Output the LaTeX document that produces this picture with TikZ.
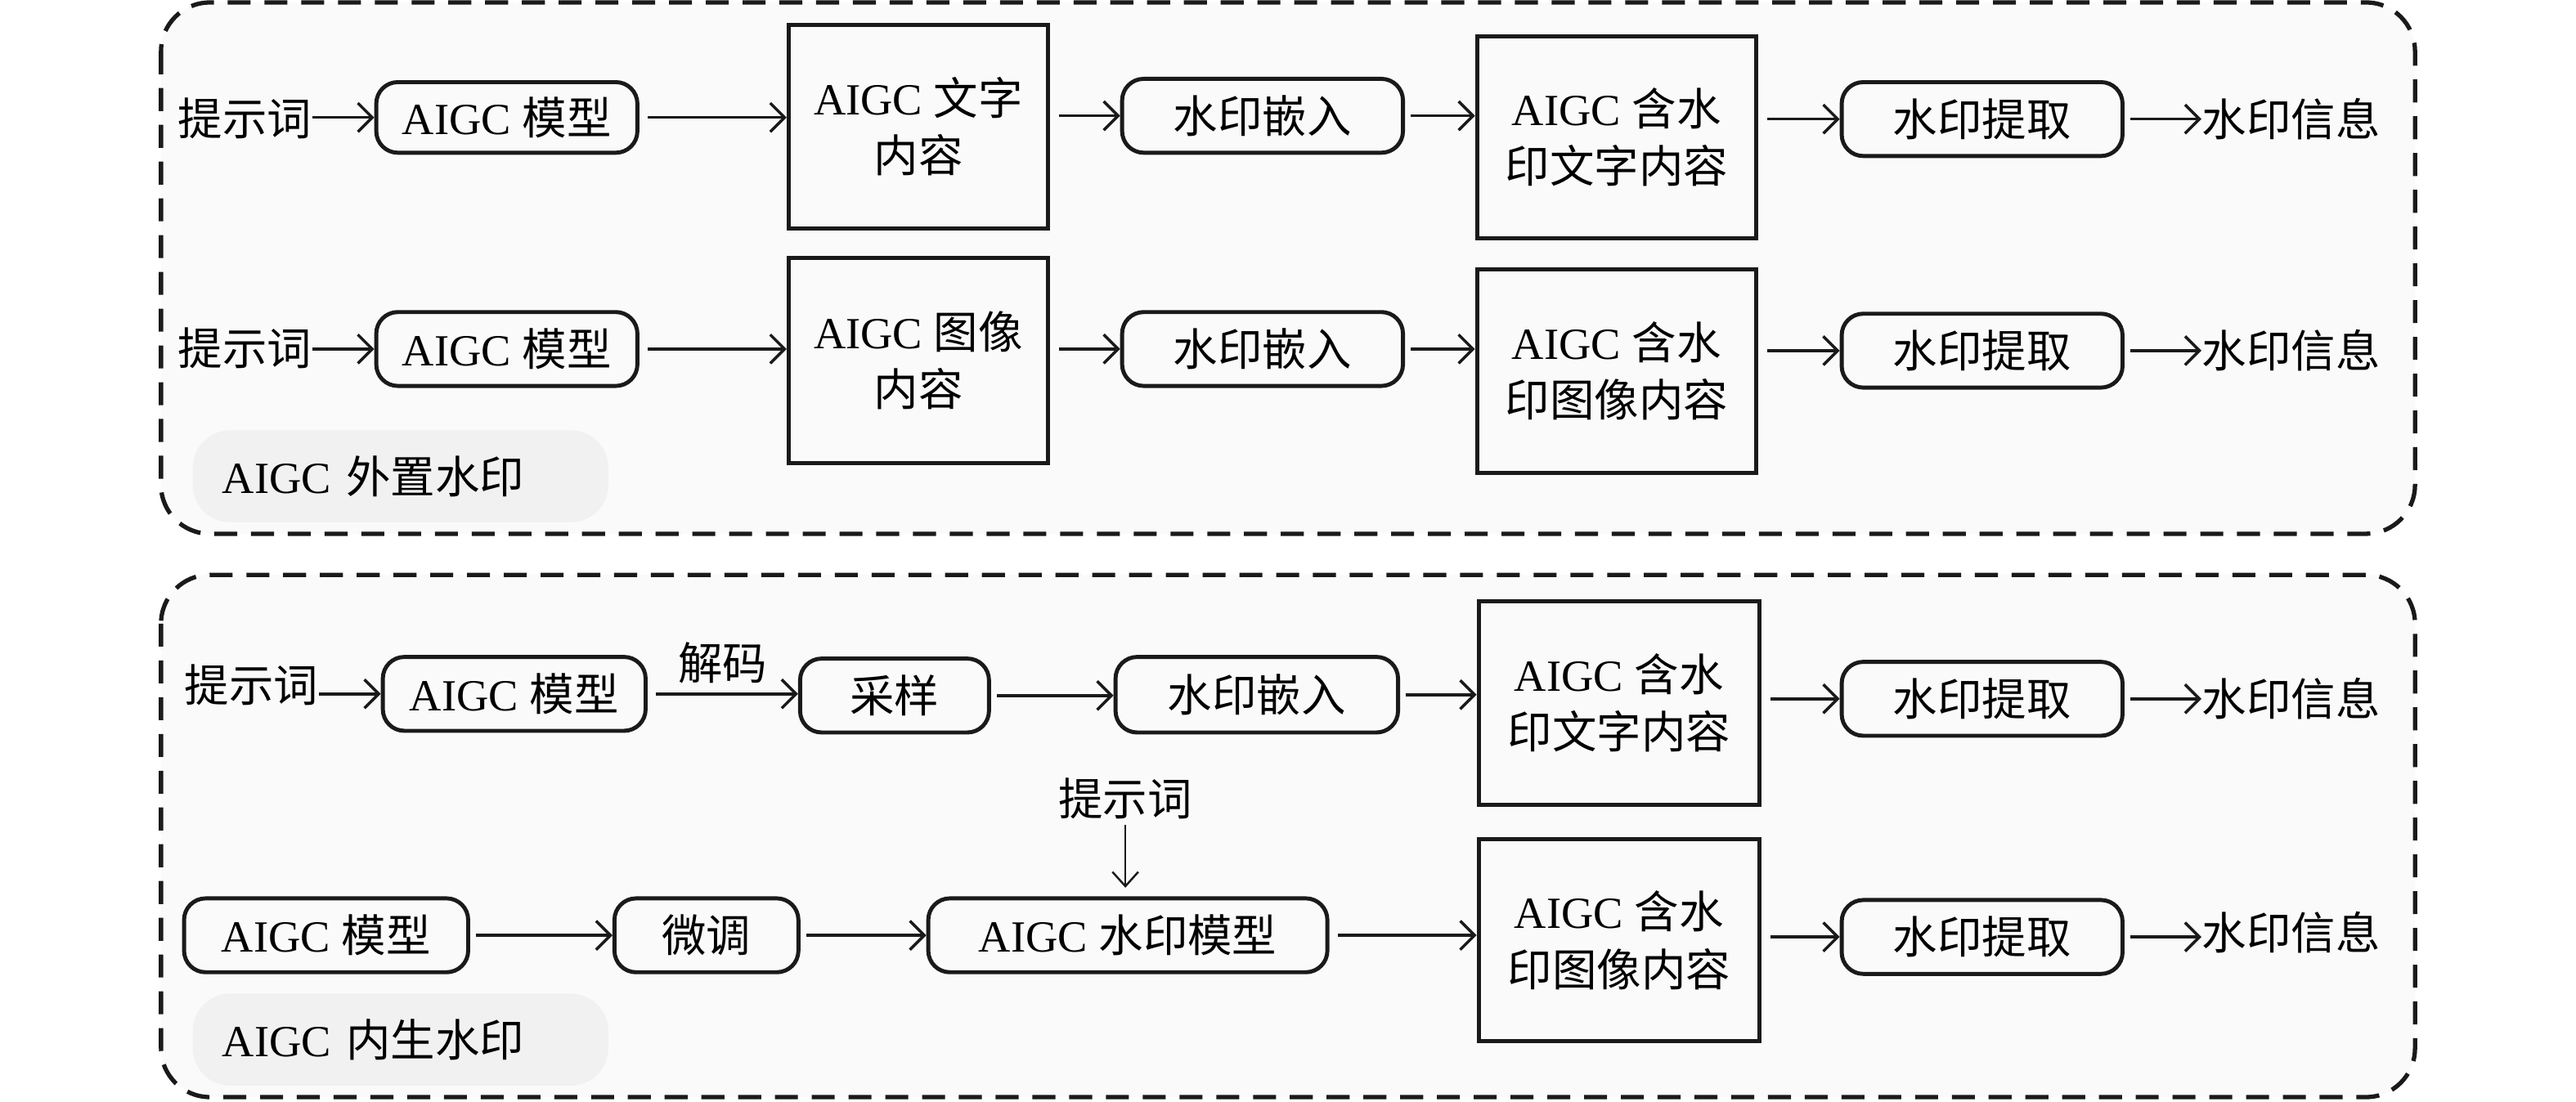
\documentclass[tikz,border=0pt]{standalone}
\usepackage{fontspec}
\setmainfont{Liberation Serif}
\newfontfamily\cjk{Noto Sans CJK SC}
\usetikzlibrary{arrows.meta}
\newcommand\zh[1]{{\cjk #1}}
\def\pxu{0.5716pt}
\definecolor{panelbg}{HTML}{FAFAFA}
\definecolor{lblbg}{HTML}{F1F1F1}
\definecolor{inkc}{HTML}{1A1A1A}
\begin{document}
\begin{tikzpicture}[x=0.02009cm,y=-0.02009cm,
  font=\fontsize{15.5}{20}\selectfont,
  sz/.style 2 args={minimum width=#1*\pxu, minimum height=#2*\pxu},
  rbox/.style={draw=inkc, line width=1.4pt, rounded corners=7.5pt, inner sep=0pt, align=center},
  sbox/.style={draw=inkc, line width=1.4pt, inner sep=0pt, align=center},
  txt/.style={inner sep=0pt},
  arr/.style={draw=inkc, -{Straight Barb[length=5pt,width=10pt]}, line width=1pt},
  varr/.style={draw=inkc, -{Straight Barb[length=5pt,width=9pt]}, line width=0.7pt},
  panel/.style={draw=inkc, dash pattern=on 8pt off 4.8pt, line width=1.5pt, fill=panelbg, rounded corners=17pt},
  lbl/.style={fill=lblbg, rounded corners=13pt, anchor=west, inner xsep=18*\pxu, inner ysep=0pt, minimum height=56*\pxu, text width=217*\pxu, align=left}
]
\useasboundingbox (0,0) rectangle (1568,671);
\fill[white] (0,0) rectangle (1568,671);

% panels
\path[panel] (98,1.5) rectangle (1470,325);
\path[panel] (98,350) rectangle (1470,668);

% panel labels
\node[lbl] (l1) at (117,290) {AIGC \zh{外置水印}};
\node[lbl] (l2) at (117,633) {AIGC \zh{内生水印}};

% ---------- top panel, row 1 ----------
\node[txt] (t1p) at (149,72) {\zh{提示词}};
\node[rbox, sz={159}{43}] (t1m) at (308.5,71.5) {AIGC \zh{模型}};
\node[sbox, sz={158}{124}] (t1c) at (559,77) {AIGC \zh{文字}\\\zh{内容}};
\node[rbox, sz={171}{45}] (t1e) at (768.5,70.5) {\zh{水印嵌入}};
\node[sbox, sz={170}{123}] (t1w) at (984,83.5) {AIGC \zh{含水}\\\zh{印文字内容}};
\node[rbox, sz={171}{45}] (t1x) at (1206.5,72.5) {\zh{水印提取}};
\node[txt, anchor=west] (t1i) at (1340,72.5) {\zh{水印信息}};

\draw[arr] (t1p.east |- t1m.west) -- (t1m.west);
\draw[arr, shorten <=3pt] (t1m.east) -- (t1m.east -| t1c.west);
\draw[arr, shorten <=3pt] (t1c.east |- t1e.west) -- (t1e.west);
\draw[arr, shorten <=2pt] (t1e.east) -- (t1e.east -| t1w.west);
\draw[arr, shorten <=3pt] (t1w.east |- t1x.west) -- (t1x.west);
\draw[arr, shorten <=2pt] (t1x.east) -- (t1i.west);

% ---------- top panel, row 2 ----------
\node[txt] (t2p) at (149,212) {\zh{提示词}};
\node[rbox, sz={159}{45}] (t2m) at (308.5,212.5) {AIGC \zh{模型}};
\node[sbox, sz={158}{125}] (t2c) at (559,219.5) {AIGC \zh{图像}\\\zh{内容}};
\node[rbox, sz={171}{45}] (t2e) at (768.5,212.5) {\zh{水印嵌入}};
\node[sbox, sz={170}{124}] (t2w) at (984,226) {AIGC \zh{含水}\\\zh{印图像内容}};
\node[rbox, sz={171}{45}] (t2x) at (1206.5,213.5) {\zh{水印提取}};
\node[txt, anchor=west] (t2i) at (1340,213.5) {\zh{水印信息}};

\draw[arr] (t2p.east |- t2m.west) -- (t2m.west);
\draw[arr, shorten <=3pt] (t2m.east) -- (t2m.east -| t2c.west);
\draw[arr, shorten <=3pt] (t2c.east |- t2e.west) -- (t2e.west);
\draw[arr, shorten <=2pt] (t2e.east) -- (t2e.east -| t2w.west);
\draw[arr, shorten <=3pt] (t2w.east |- t2x.west) -- (t2x.west);
\draw[arr, shorten <=2pt] (t2x.east) -- (t2i.west);

% ---------- bottom panel, row 1 ----------
\node[txt] (b1p) at (153,417) {\zh{提示词}};
\node[rbox, sz={160}{45}] (b1m) at (313,422.5) {AIGC \zh{模型}};
\node[rbox, sz={115}{45}] (b1s) at (544.5,423.5) {\zh{采样}};
\node[rbox, sz={172}{46}] (b1e) at (765,423) {\zh{水印嵌入}};
\node[sbox, sz={171}{124}] (b1w) at (985.5,428) {AIGC \zh{含水}\\\zh{印文字内容}};
\node[rbox, sz={171}{45}] (b1x) at (1206.5,425.5) {\zh{水印提取}};
\node[txt, anchor=west] (b1i) at (1340,425.5) {\zh{水印信息}};

\draw[arr] (b1p.east |- b1m.west) -- (b1m.west);
\draw[arr, shorten <=3pt] (b1m.east) -- node[above=3pt, inner sep=0pt] {\zh{解码}} (b1m.east -| b1s.west);
\draw[arr, shorten <=2pt] (b1s.east) -- (b1s.east -| b1e.west);
\draw[arr, shorten <=2pt] (b1e.east) -- (b1e.east -| b1w.west);
\draw[arr, shorten <=3pt] (b1w.east |- b1x.west) -- (b1x.west);
\draw[arr, shorten <=2pt] (b1x.east) -- (b1i.west);

% ---------- bottom panel, row 2 ----------
\node[rbox, sz={173}{45}] (b2m) at (198.5,569.5) {AIGC \zh{模型}};
\node[rbox, sz={112}{45}] (b2f) at (430,569.5) {\zh{微调}};
\node[rbox, sz={243}{45}] (b2a) at (686.5,569.5) {AIGC \zh{水印模型}};
\node[txt] (b2p) at (685,486) {\zh{提示词}};
\node[sbox, sz={171}{123}] (b2w) at (985.5,572.5) {AIGC \zh{含水}\\\zh{印图像内容}};
\node[rbox, sz={171}{45}] (b2x) at (1206.5,570.5) {\zh{水印提取}};
\node[txt, anchor=west] (b2i) at (1340,568) {\zh{水印信息}};

\draw[arr, shorten <=2pt] (b2m.east) -- (b2f.west);
\draw[arr, shorten <=2pt] (b2f.east) -- (b2a.west);
\draw[varr, shorten <=2pt, shorten >=3pt] (b2p.south) -- (b2p.south |- b2a.north);
\draw[arr, shorten <=3pt] (b2a.east) -- (b2a.east -| b2w.west);
\draw[arr, shorten <=3pt] (b2w.east |- b2x.west) -- (b2x.west);
\draw[arr, shorten <=2pt] (b2x.east) -- (b2i.west |- b2x.east);
\end{tikzpicture}
\end{document}
